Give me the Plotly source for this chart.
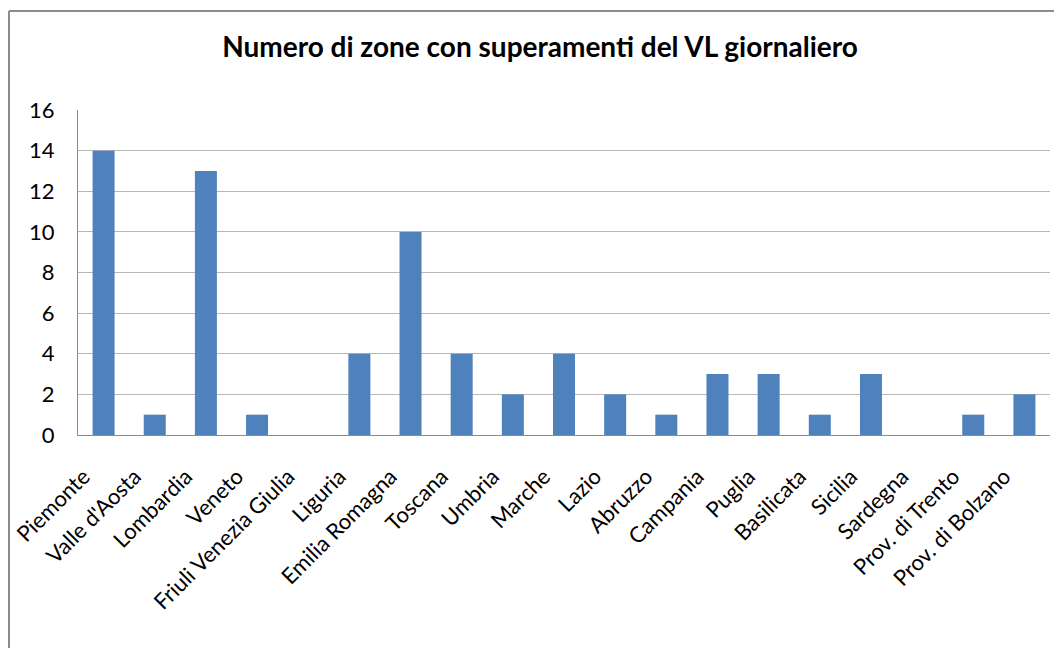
import plotly.graph_objects as go

regions = ["Piemonte", "Valle d'Aosta", "Lombardia", "Veneto", "Friuli Venezia Giulia",
           "Liguria", "Emilia Romagna", "Toscana", "Umbria", "Marche", "Lazio", "Abruzzo",
           "Campania", "Puglia", "Basilicata", "Sicilia", "Sardegna", "Prov. di Trento",
           "Prov. di Bolzano"]
zones = [14, 1, 13, 1, 0, 4, 10, 4, 2, 4, 2, 1, 3, 3, 1, 3, 0, 1, 2]
y_ticks = [0, 2, 4, 6, 8, 10, 12, 14, 16]
title = "Numero di zone con superamenti del VL giornaliero"

# The page body adds an 8px offset; positions below are in figure coordinates.
OFF = 8
W, H = 1062, 648
L = 78 - OFF
T = 110 - OFF
pw, ph = 972, 325
R = W - L - pw
B = H - T - ph

fig = go.Figure(go.Bar(x=regions, y=zones, marker=dict(color="#4F81BD", line=dict(width=0)),
                       hoverinfo="x+y"))

bx = (9 - OFF - L) / pw
by = (H - B - (11 - OFF)) / ph
fig.add_shape(type="line", xref="paper", yref="paper", x0=bx, x1=(W - L + 20) / pw, y0=by, y1=by,
              line=dict(color="#8C8C8C", width=2))
fig.add_shape(type="line", xref="paper", yref="paper", x0=bx, x1=bx, y0=by, y1=-(B + 20) / ph,
              line=dict(color="#8C8C8C", width=2))

fig.update_layout(
    width=W, height=H,
    margin=dict(l=L, r=R, t=T, b=B, autoexpand=False),
    paper_bgcolor="white", plot_bgcolor="white",
    font=dict(family="Lato, Calibri, sans-serif", color="black"),
    title=dict(text="<b>" + title + "</b>", x=(540 - OFF - L) / pw, xref="paper", xanchor="center",
               y=1 - (47 - OFF) / H, yanchor="middle", font=dict(size=28, color="black")),
    bargap=0.57,
    showlegend=False,
)
fig.update_xaxes(tickangle=-45, tickfont=dict(size=22), showline=True, linecolor="#8C8C8C",
                 linewidth=1, mirror=False, ticks="", showgrid=False, automargin=False,
                 ticklabelstandoff=19, ticklabelshift=-20)
fig.update_yaxes(range=[0, 16], tickvals=y_ticks, tickfont=dict(size=22), showgrid=True,
                 gridcolor="#B8B8B8", gridwidth=1, showline=True, linecolor="#8C8C8C",
                 linewidth=1, zeroline=False, ticks="", ticklabelstandoff=18, automargin=False)

fig.write_html("out.html")
